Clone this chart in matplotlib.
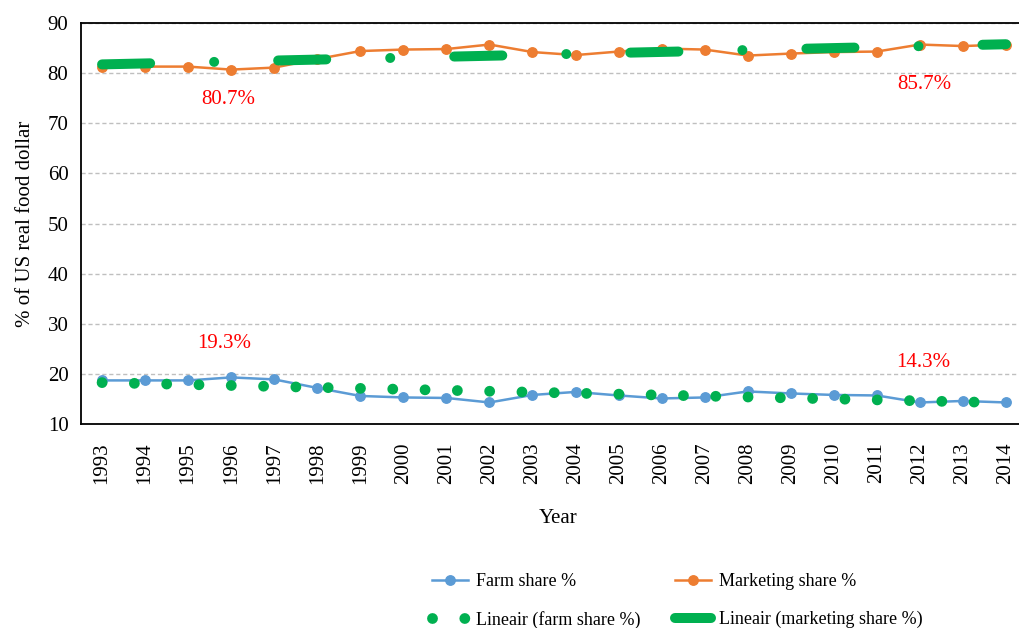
import matplotlib
matplotlib.use("Agg")
import matplotlib.pyplot as plt
import numpy as np

plt.rcParams['font.family'] = ['Liberation Serif', 'DejaVu Serif']
plt.rcParams['lines.scale_dashes'] = False

# Share of the US food dollar, by year
years = list(range(1993, 2015))
farm_share = [18.7, 18.7, 18.7, 19.3, 18.9, 17.2, 15.6, 15.3, 15.2, 14.3, 15.8,
              16.4, 15.7, 15.1, 15.3, 16.5, 16.1, 15.8, 15.7, 14.3, 14.6, 14.3]
marketing_share = [81.3, 81.3, 81.3, 80.7, 81.1, 82.8, 84.4, 84.7, 84.8, 85.7, 84.2,
                   83.6, 84.3, 84.9, 84.7, 83.5, 83.9, 84.2, 84.3, 85.7, 85.4, 85.7]
y_ticks = [10, 20, 30, 40, 50, 60, 70, 80, 90]

BLUE = '#5B9BD5'
ORANGE = '#ED7D31'
GREEN = '#00B050'

x = np.array(years)
farm = np.array(farm_share)
marketing = np.array(marketing_share)

# linear trends
farm_fit = np.polyval(np.polyfit(x, farm, 1), x)
marketing_fit = np.polyval(np.polyfit(x, marketing, 1), x)

fig = plt.figure(figsize=(10.2, 6.28), dpi=100)
ax = fig.add_axes([0.0794, 0.3248, 0.9275, 0.6386])

h_farm, = ax.plot(x, farm, color=BLUE, lw=1.8, marker='o', ms=6.8,
                  label='Farm share %', zorder=3)
h_mark, = ax.plot(x, marketing, color=ORANGE, lw=1.8, marker='o', ms=6.8,
                  label='Marketing share %', zorder=3)
h_farm_fit, = ax.plot(x, farm_fit, color=GREEN, lw=7.8, dashes=(0.01, 23.25),
                      dash_capstyle='round', label='Lineair (farm share %)', zorder=4)
h_mark_fit, = ax.plot(x, marketing_fit, color=GREEN, lw=7.2, dashes=(34.6, 46.1, 0.01, 46.1),
                      dash_capstyle='round', solid_capstyle='round',
                      label='Lineair (marketing share %)', zorder=4)

# value callouts for 1996 and 2012
red = '#FF0000'
i96 = years.index(1996)
i12 = years.index(2012)
ax.text(1995.93, 74.7, f'{marketing[i96]:.1f}%', color=red, fontsize=15, ha='center', va='center')
ax.text(1995.83, 26.0, f'{farm[i96]:.1f}%', color=red, fontsize=15, ha='center', va='center')
ax.text(2012.1, 77.7, f'{marketing[i12]:.1f}%', color=red, fontsize=15, ha='center', va='center')
ax.text(2012.07, 22.2, f'{farm[i12]:.1f}%', color=red, fontsize=15, ha='center', va='center')

ax.set_xlim(1992.51, 2014.49)
ax.set_ylim(10, 90)
ax.set_yticks(y_ticks)
ax.set_xticks(years)
ax.set_xticklabels([str(y) for y in years], rotation=90)
ax.tick_params(axis='both', length=0, labelsize=15)
ax.tick_params(axis='x', pad=13)
ax.tick_params(axis='y', pad=9)

ax.grid(axis='y', color='#BFBFBF', linestyle=(0, (3, 2)), lw=1.0)
ax.set_axisbelow(True)
ax.spines['right'].set_visible(False)
for side in ('left', 'bottom', 'top'):
    ax.spines[side].set_linewidth(1.3)
    ax.spines[side].set_color('black')

ax.set_xlabel('Year', fontsize=15)
ax.set_ylabel('% of US real food dollar', fontsize=15)
ax.xaxis.set_label_coords(0.504, -0.212)
ax.yaxis.set_label_coords(-0.049, 0.5)

# two columns: data series on the first row, trends on the second
fig.legend(handles=[h_farm, h_farm_fit, h_mark, h_mark_fit],
           loc='upper left', bbox_to_anchor=(432 / 1020, 0.0872), ncol=2, frameon=False,
           fontsize=13, handlelength=2.0, handletextpad=0.45, columnspacing=1.9,
           labelspacing=1.14, borderpad=0, borderaxespad=0)

fig.savefig('out.png', dpi=100)
